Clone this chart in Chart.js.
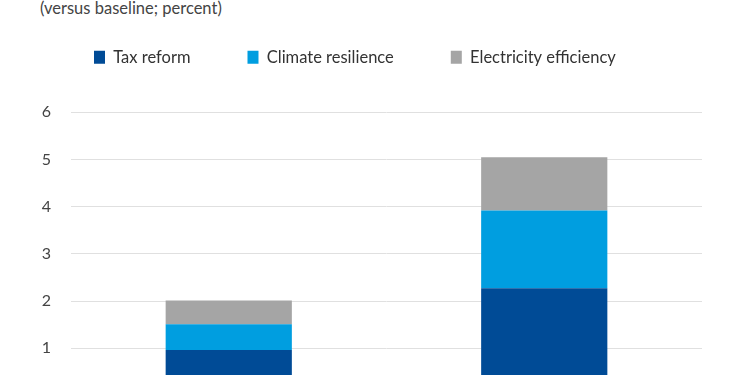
<!DOCTYPE html>
<html>
<head>
<meta charset="utf-8">
<script src="https://cdn.jsdelivr.net/npm/chart.js@4"></script>
<style>
  body { margin: 0; width: 750px; height: 375px; overflow: hidden; background: #fff; position: relative; }
  #title { position: absolute; left: 40px; top: -2px; font: 16.5px Lato, sans-serif; line-height: 20px; color: #444; }
  #wrap { position: absolute; left: 0; top: -8px; width: 750px; height: 433px; }
</style>
</head>
<body>
<div id="title">(versus baseline; percent)</div>
<div id="wrap"><canvas id="barChart"></canvas></div>
<script>
const categories = ["Scenario 1", "Scenario 2"];
const taxReform = [0.96, 2.27];
const climateResilience = [0.55, 1.65];
const electricityEfficiency = [0.50, 1.13];
const yTicks = [0, 1, 2, 3, 4, 5, 6];

const ctx = document.getElementById("barChart");

new Chart(ctx, {
    type: "bar",
    data: {
        labels: categories,
        datasets: [
        {
            label: "Tax reform",
            data: taxReform,
            backgroundColor: "#004b96",
        },
        {
            label: "Climate resilience",
            data: climateResilience,
            backgroundColor: "#009ee0",
        },
        {
            label: "Electricity efficiency",
            data: electricityEfficiency,
            backgroundColor: "#a5a5a5",
        },
        ],
    },
    options: {
        responsive: true,
        maintainAspectRatio: false,
        animation: false,
        layout: { padding: { left: 37, right: 48, top: 0, bottom: 14 } },
        datasets: { bar: { barPercentage: 0.4, categoryPercentage: 1, borderWidth: 0 } },
        plugins: {
            tooltip: { enabled: false },
            legend: {
                position: "top",
                align: "start",
                labels: {
                    boxWidth: 11,
                    boxHeight: 13,
                    padding: 57,
                    color: "#333",
                    font: { family: "Lato", size: 16.5 },
                },
            },
        },
        scales: {
            x: {
                stacked: true,
                grid: { display: false },
                border: { display: false },
                ticks: { display: false },
            },
            y: {
                stacked: true,
                min: 0,
                max: 6.78,
                afterBuildTicks: (scale) => {
                    scale.ticks = yTicks.map((v) => ({ value: v }));
                },
                afterFit: (scale) => { scale.width = 34; },
                grid: { color: "#e0e0e0", lineWidth: 1, drawTicks: false },
                border: { display: false },
                ticks: {
                    padding: 20,
                    color: "#444",
                    font: { family: "Lato", size: 16 },
                },
            },
        },
    },
});
</script>
</body>
</html>
